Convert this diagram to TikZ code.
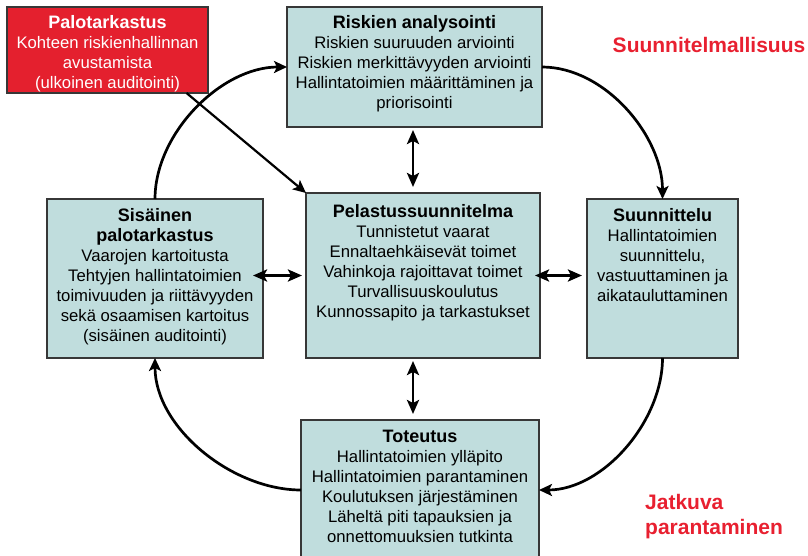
\documentclass[tikz,border=0pt]{standalone}
\usepackage{fontspec}
\setmainfont{Liberation Sans}
\usetikzlibrary{arrows.meta}
\definecolor{boxfill}{RGB}{192,221,221}
\definecolor{boxline}{RGB}{55,55,55}
\definecolor{redfill}{RGB}{228,32,46}
\definecolor{redtext}{RGB}{232,32,48}
\begin{document}
\begin{tikzpicture}[x=1pt,y=1pt,
  box/.style={draw=boxline,line width=1.2pt,fill=boxfill,minimum width=#1,inner sep=0pt,outer sep=0pt},
  redbox/.style={draw=boxline,line width=1.2pt,fill=redfill,inner sep=0pt,outer sep=0pt},
  txt/.style={anchor=north,align=center,inner sep=0pt,font=\fontsize{16.7}{20}\selectfont},
  flow/.style={line width=2.7pt,-{Stealth[length=13pt,width=12pt,inset=3pt]}},
  both/.style={line width=2.7pt,{Stealth[length=14pt,width=12pt,inset=3pt]}-{Stealth[length=14pt,width=12pt,inset=3pt]}},
  lbl/.style={text=redtext,font=\fontsize{21}{25}\selectfont\bfseries,inner sep=0pt}
]
\clip (0,0) rectangle (808,-556);
\newcommand\ttlx[1]{{\fontsize{18}{20}\selectfont\bfseries #1}}

% boxes
\node[redbox,minimum width=201pt,minimum height=86pt] (red) at (107.5,-50) {};
\node[box=255pt,minimum height=120pt] (risk) at (414.5,-67) {};
\node[box=216pt,minimum height=159pt] (sis) at (155,-278.5) {};
\node[box=234pt,minimum height=165pt] (pel) at (423,-275.5) {};
\node[box=151pt,minimum height=159pt] (suun) at (662.5,-278.5) {};
\node[box=238pt,minimum height=140pt] (tot) at (420,-490) {};

% texts
\node[txt,text=white] (redt) at (107.5,-15.5) {\ttlx{Palotarkastus}\\Kohteen riskienhallinnan\\avustamista\\(ulkoinen auditointi)};
\node[txt] (riskt) at (414.5,-15.5) {\ttlx{Riskien analysointi}\\Riskien suuruuden arviointi\\Riskien merkittävyyden arviointi\\Hallintatoimien määrittäminen ja\\priorisointi};
\node[txt] (sist) at (155,-208.5) {\ttlx{Sisäinen}\\\ttlx{palotarkastus}\\Vaarojen kartoitusta\\Tehtyjen hallintatoimien\\toimivuuden ja riittävyyden\\sekä osaamisen kartoitus\\(sisäinen auditointi)};
\node[txt] (pelt) at (423,-204.5) {\ttlx{Pelastussuunnitelma}\\Tunnistetut vaarat\\Ennaltaehkäisevät toimet\\Vahinkoja rajoittavat toimet\\Turvallisuuskoulutus\\Kunnossapito ja tarkastukset};
\node[txt] (suunt) at (662.5,-208.5) {\ttlx{Suunnittelu}\\Hallintatoimien\\suunnittelu,\\vastuuttaminen ja\\aikatauluttaminen};
\node[txt] (tott) at (420,-429.5) {\ttlx{Toteutus}\\Hallintatoimien ylläpito\\Hallintatoimien parantaminen\\Koulutuksen järjestäminen\\Läheltä piti tapauksien ja\\onnettomuuksien tutkinta};

% labels
\node[lbl] (l1) at (709,-45) {Suunnitelmallisuus};
\node[lbl,anchor=west,align=left] (l2) at (645,-517) {Jatkuva\\parantaminen};

% cycle arrows
\draw[flow] (sis.north) to[out=90,in=180,looseness=0.9] (risk.west);
\draw[flow] (risk.east) to[out=0,in=90,looseness=0.9] (suun.north);
\draw[flow] (suun.south) to[out=-90,in=0,looseness=0.9] (tot.east);
\draw[flow] (tot.west) to[out=180,in=-90,looseness=0.9] (sis.south);

% double arrows
\coordinate (vx) at (413,0);
\draw[both] ([yshift=-3pt]risk.south -| vx) -- ([yshift=6pt]pel.north -| vx);
\draw[both] ([yshift=-3pt]pel.south -| vx) -- ([yshift=6pt]tot.north -| vx);
\draw[both] ([xshift=-10pt]sis.east |- pel.center) -- ([xshift=-4pt]pel.west);
\draw[both] ([xshift=-5pt]pel.east) -- ([xshift=-5pt]suun.west |- pel.center);

% external audit arrow
\draw[flow,line width=2.2pt] ([xshift=79pt]red.south) -- (pel.north west);
\end{tikzpicture}
\end{document}
